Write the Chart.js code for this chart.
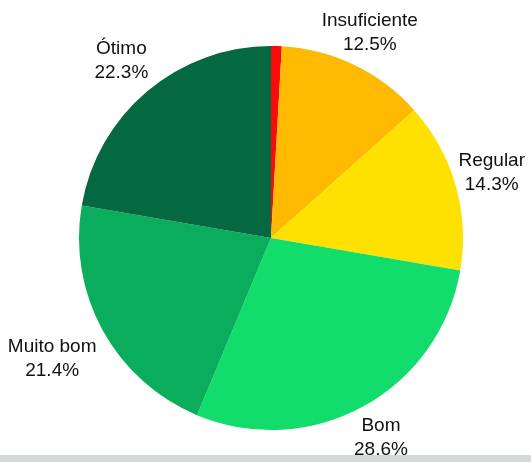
<!DOCTYPE html>
<html>
<head>
<meta charset="utf-8">
<script src="https://cdn.jsdelivr.net/npm/chart.js@4/dist/chart.umd.min.js"></script>
<style>
  html, body { margin: 0; padding: 0; background: #ffffff; }
  #wrap { position: relative; width: 531px; height: 462px; }
  #band { position: absolute; left: 0; right: 0; bottom: 0; height: 7px; background: #d5d8db; z-index: 0; }
  canvas { position: absolute; left: 0; top: 0; z-index: 1; }
</style>
</head>
<body>
<div id="wrap">
  <div id="band"></div>
  <canvas id="c" width="531" height="462"></canvas>
</div>
<script>
const categories = ["Péssimo", "Insuficiente", "Regular", "Bom", "Muito bom", "Ótimo"];
const values = [0.9, 12.5, 14.3, 28.6, 21.4, 22.3];
const colors = ["#fb0a0a", "#ffb900", "#ffe100", "#11dc6c", "#09ad5b", "#046840"];

const outsideLabels = {
  id: 'outsideLabels',
  afterDatasetsDraw(chart) {
    const ctx = chart.ctx;
    const meta = chart.getDatasetMeta(0);
    const gap = 10;
    const lineH = 24;
    const margin = 6;
    ctx.save();
    ctx.font = '19px "Liberation Sans", Arial, Helvetica, sans-serif';
    ctx.fillStyle = '#111111';
    ctx.textAlign = 'center';
    ctx.textBaseline = 'middle';
    meta.data.forEach((arc, i) => {
      const v = values[i];
      if (v < 2) return;
      const p = arc.getProps(['x', 'y', 'startAngle', 'endAngle', 'outerRadius'], true);
      const mid = (p.startAngle + p.endAngle) / 2;
      const ux = Math.cos(mid), uy = Math.sin(mid);
      const l1 = categories[i];
      const l2 = v.toFixed(1) + '%';
      const w = Math.max(ctx.measureText(l1).width, ctx.measureText(l2).width);
      const h = lineH * 2 - 2;
      const ex = Math.abs(ux) > 1e-6 ? (w / 2) / Math.abs(ux) : Infinity;
      const ey = Math.abs(uy) > 1e-6 ? (h / 2) / Math.abs(uy) : Infinity;
      const d = p.outerRadius + gap + Math.min(ex, ey);
      let cx = p.x + ux * d;
      const cy = p.y + uy * d;
      cx = Math.min(cx, chart.width - margin - w / 2);
      cx = Math.max(cx, margin + w / 2);
      ctx.fillText(l1, cx, cy - lineH / 2);
      ctx.fillText(l2, cx, cy + lineH / 2);
    });
    ctx.restore();
  }
};

new Chart(document.getElementById('c'), {
  type: 'pie',
  data: {
    labels: categories,
    datasets: [{
      data: values,
      backgroundColor: colors,
      borderWidth: 0
    }]
  },
  options: {
    responsive: false,
    animation: false,
    layout: { padding: { left: 79, right: 68, top: 46, bottom: 32 } },
    plugins: {
      legend: { display: false },
      tooltip: { enabled: false }
    }
  },
  plugins: [outsideLabels]
});
</script>
</body>
</html>
